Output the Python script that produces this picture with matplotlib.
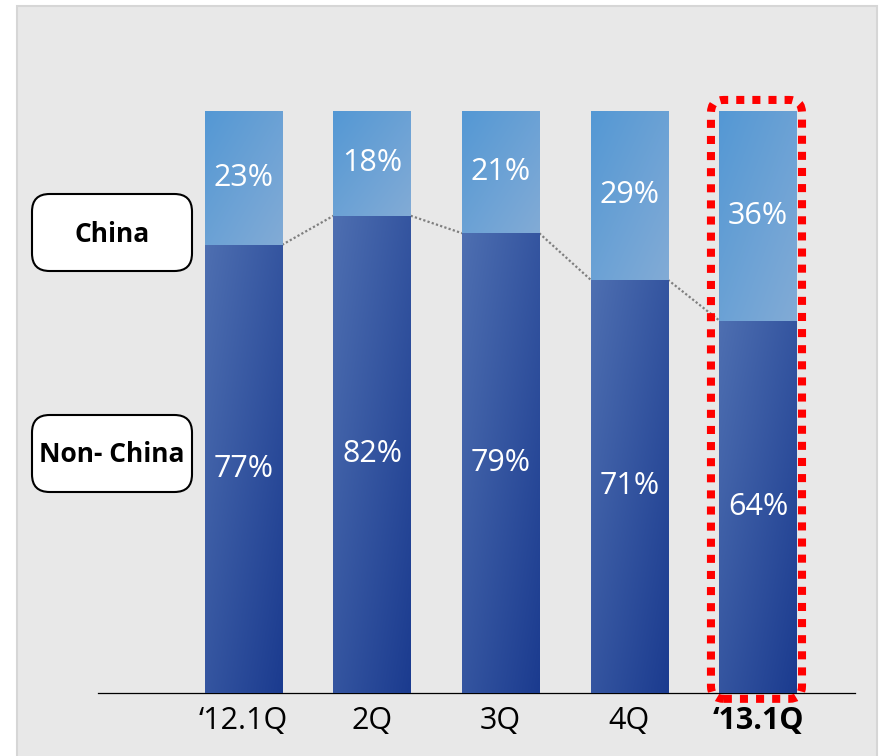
import numpy as np
import matplotlib
matplotlib.use("Agg")
import matplotlib.pyplot as plt
from matplotlib.colors import LinearSegmentedColormap
from matplotlib.patches import FancyBboxPatch, Rectangle

# quarterly sales mix (%)
quarters = ["\u201812.1Q", "2Q", "3Q", "4Q", "\u201813.1Q"]
china = [23, 18, 21, 29, 36]
non_china = [77, 82, 79, 71, 64]
legend_names = ["China", "Non- China"]

plt.rcParams['font.family'] = ['Open Sans', 'DejaVu Sans']

W, H = 880, 756
fig = plt.figure(figsize=(W / 100, H / 100), dpi=100)
fig.patch.set_facecolor('white')

# light gray slide panel
panel = Rectangle((17 / W, -0.01), 860 / W, 750 / H + 0.01, transform=fig.transFigure,
                  facecolor='#e8e8e8', edgecolor='#d6d6d6', lw=1.5, zorder=-5)
fig.patches.append(panel)

ax = fig.add_axes([98 / W, 63 / H, 757 / W, 582 / H])
ax.set_facecolor('none')
ax.set_zorder(1)

x = np.arange(len(quarters))
bw = 0.6

nc_cmap = LinearSegmentedColormap.from_list('nc', ['#4e6fb1', '#1b3b8f'])
cn_cmap = LinearSegmentedColormap.from_list('cn', ['#5498d4', '#82abd6'])

bars_nc = ax.bar(x, non_china, bw, color='#3a5aa3', linewidth=0, zorder=2)
bars_cn = ax.bar(x, china, bw, bottom=non_china, color='#6aa2d5', linewidth=0, zorder=2)


def gradient_fill(bar, cmap):
    # diagonal gradient: top-left -> bottom-right
    x0, y0 = bar.get_x(), bar.get_y()
    w, h = bar.get_width(), bar.get_height()
    U, V = np.meshgrid(np.linspace(0, 1, 60), np.linspace(0, 1, 200))
    t = (U + (1 - V)) / 2
    im = ax.imshow(t, cmap=cmap, extent=[x0, x0 + w, y0, y0 + h], origin='lower',
                   aspect='auto', interpolation='bilinear', zorder=3)
    im.set_clip_path(bar)


for b in bars_nc:
    gradient_fill(b, nc_cmap)
for b in bars_cn:
    gradient_fill(b, cn_cmap)

# dotted connectors between the Non-China tops
for i in range(len(x) - 1):
    ax.plot([x[i] + bw / 2, x[i + 1] - bw / 2], [non_china[i], non_china[i + 1]],
            color='#7f7f7f', ls=(0, (1, 1)), lw=1.6, zorder=1)

# value labels
for i in range(len(x)):
    ax.text(x[i], non_china[i] / 2, f"{non_china[i]}%", ha='center', va='center',
            color='white', fontsize=22, zorder=4)
    ax.text(x[i], non_china[i] + china[i] / 2, f"{china[i]}%", ha='center', va='center',
            color='white', fontsize=22, zorder=4)

# red dotted frame on the latest quarter
sx = 757 / 5.886  # px per x unit
sy = 582 / 100.0  # px per y unit
frame = FancyBboxPatch((3.635, -1.0), 0.708, 102.9,
                       boxstyle="round,pad=0,rounding_size=0.1", mutation_aspect=sx / sy,
                       fill=False, edgecolor='#ff0000', lw=5.8, linestyle=(0, (1, 1)),
                       clip_on=False, zorder=5)
ax.add_patch(frame)

ax.set_xlim(-1.131, 4.755)
ax.set_ylim(0, 100)
for s in ['top', 'left', 'right']:
    ax.spines[s].set_visible(False)
ax.spines['bottom'].set_color('black')
ax.spines['bottom'].set_linewidth(0.9)
ax.set_yticks([])
ax.set_xticks(x)
ax.set_xticklabels(quarters, fontsize=22)
ax.tick_params(axis='x', length=0, pad=9)
ax.get_xticklabels()[-1].set_fontweight('bold')

# left-side category boxes
box_y = [485, 264]
for name, by in zip(legend_names, box_y):
    fig.add_artist(FancyBboxPatch((32 / W, by / H), 160 / W, 77 / H,
                                  boxstyle="round,pad=0,rounding_size=0.02",
                                  mutation_aspect=W / H, transform=fig.transFigure,
                                  facecolor='white', edgecolor='black', lw=1.5, zorder=2))
    fig.text(112 / W, (by + 37) / H, name, ha='center', va='center',
             fontsize=19, fontweight='bold', color='black', zorder=3)

fig.savefig('out.png', dpi=100)
